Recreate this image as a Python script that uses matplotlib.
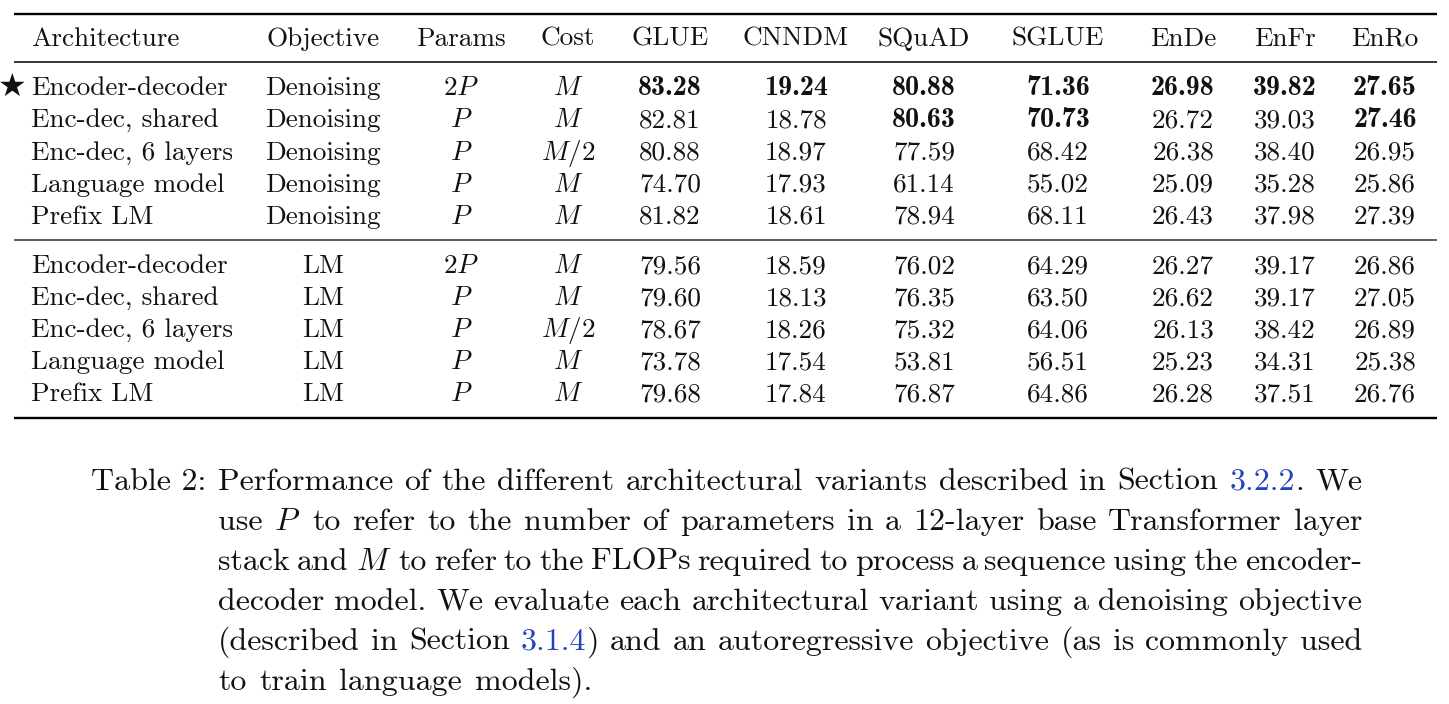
import matplotlib
matplotlib.use('Agg')
import matplotlib.pyplot as plt

plt.rcParams['font.family'] = ['cmr10', 'DejaVu Sans']
plt.rcParams['mathtext.fontset'] = 'cm'
plt.rcParams['axes.unicode_minus'] = False
plt.rcParams['axes.formatter.use_mathtext'] = True

# ---------------- data ----------------
headers = ["Architecture", "Objective", "Params", "Cost", "GLUE", "CNNDM",
           "SQuAD", "SGLUE", "EnDe", "EnFr", "EnRo"]
architectures = ["Encoder-decoder", "Enc-dec, shared", "Enc-dec, 6 layers",
                 "Language model", "Prefix LM"] * 2
objectives = ["Denoising"] * 5 + ["LM"] * 5
params = ["2$P$", "$P$", "$P$", "$P$", "$P$"] * 2
costs = ["$M$", "$M$", "$M/2$", "$M$", "$M$"] * 2
glue = [83.28, 82.81, 80.88, 74.70, 81.82, 79.56, 79.60, 78.67, 73.78, 79.68]
cnndm = [19.24, 18.78, 18.97, 17.93, 18.61, 18.59, 18.13, 18.26, 17.54, 17.84]
squad = [80.88, 80.63, 77.59, 61.14, 78.94, 76.02, 76.35, 75.32, 53.81, 76.87]
sglue = [71.36, 70.73, 68.42, 55.02, 68.11, 64.29, 63.50, 64.06, 56.51, 64.86]
ende = [26.98, 26.72, 26.38, 25.09, 26.43, 26.27, 26.62, 26.13, 25.23, 26.28]
enfr = [39.82, 39.03, 38.40, 35.28, 37.98, 39.17, 39.17, 38.42, 34.31, 37.51]
enro = [27.65, 27.46, 26.95, 25.86, 27.39, 26.86, 27.05, 26.89, 25.38, 26.76]
bold_rows = {"GLUE": [0], "CNNDM": [0], "SQuAD": [0, 1], "SGLUE": [0, 1],
             "EnDe": [0], "EnFr": [0], "EnRo": [0, 1]}
starred_row = 0

caption_label = "Table 2:"
caption_lines = [
    "Performance of the different architectural variants described in Section {3.2.2}. We",
    "use $P$ to refer to the number of parameters in a 12-layer base Transformer layer",
    "stack and $M$ to refer to the FLOPs required to process a sequence using the encoder-",
    "decoder model. We evaluate each architectural variant using a denoising objective",
    "(described in Section {3.1.4}) and an autoregressive objective (as is commonly used",
    "to train language models).",
]

# ---------------- layout ----------------
W, H = 1449, 704
fig = plt.figure(figsize=(W / 100, H / 100), dpi=100)
ax = fig.add_axes([0, 0, 1, 1])
ax.set_xlim(0, W)
ax.set_ylim(H, 0)
ax.axis('off')

FS = 19.6
FS_BOLD = 20.2
FS_CAP = 23
TXT = '#111111'
LINK = '#2342c0'

num_cols = {"GLUE": glue, "CNNDM": cnndm, "SQuAD": squad, "SGLUE": sglue,
            "EnDe": ende, "EnFr": enfr, "EnRo": enro}
col_x = {"Architecture": 31, "Objective": 323, "Params": 461, "Cost": 568,
         "GLUE": 670, "CNNDM": 796, "SQuAD": 924, "SGLUE": 1058,
         "EnDe": 1183, "EnFr": 1285, "EnRo": 1385}

header_y = 46
row_y = [95, 127, 160, 192, 224, 273, 305, 337, 369, 401]

# rules
ax.plot([14, 1437], [14, 14], color='black', lw=1.7, solid_capstyle='butt')
ax.plot([14, 1437], [62, 62], color='black', lw=1.1, solid_capstyle='butt')
ax.plot([14, 1437], [240, 240], color='#333333', lw=1.1, solid_capstyle='butt')
ax.plot([14, 1437], [418, 418], color='black', lw=1.7, solid_capstyle='butt')

for h in headers:
    ax.text(col_x[h], header_y, h, fontsize=FS, color=TXT, va='baseline',
            ha='left' if h == "Architecture" else 'center')

for i, y in enumerate(row_y):
    ax.text(col_x["Architecture"], y, architectures[i], fontsize=FS, color=TXT,
            va='baseline', ha='left')
    ax.text(col_x["Objective"], y, objectives[i], fontsize=FS, color=TXT,
            va='baseline', ha='center')
    ax.text(col_x["Params"], y, params[i], fontsize=FS, color=TXT,
            va='baseline', ha='center')
    ax.text(col_x["Cost"], y, costs[i], fontsize=FS, color=TXT,
            va='baseline', ha='center')
    for name, vals in num_cols.items():
        b = i in bold_rows[name]
        ax.text(col_x[name], y, f"{vals[i]:.2f}", fontsize=FS_BOLD if b else FS,
                color=TXT, va='baseline', ha='center',
                family='cmb10' if b else 'cmr10')

ax.text(12.5, row_y[starred_row] + 1, "★", family='DejaVu Sans', fontsize=23,
        color=TXT, va='baseline', ha='center')

# ---------------- caption ----------------
renderer = fig.canvas.get_renderer()


def parse_word(w):
    pieces = []
    buf = ''
    link = False
    for ch in w:
        if ch == '{':
            if buf:
                pieces.append((buf, TXT))
            buf = ''
            link = True
        elif ch == '}':
            pieces.append((buf, LINK))
            buf = ''
            link = False
        else:
            buf += ch
    if buf:
        pieces.append((buf, LINK if link else TXT))
    return pieces


def ink_width(s):
    t = ax.text(0, 0, s, fontsize=FS_CAP)
    w = t.get_window_extent(renderer).width
    t.remove()
    return w


space_w = 0.333 * FS_CAP * 100 / 72 + 2

cap_x0, cap_x1 = 218, 1362
cap_y = [490, 530, 570, 610, 650, 690]

ax.text(91, cap_y[0], caption_label, fontsize=FS_CAP, color=TXT,
        va='baseline', ha='left')

for li, (line, y) in enumerate(zip(caption_lines, cap_y)):
    words = [parse_word(w) for w in line.split(' ')]
    widths = [ink_width(''.join(s for s, _ in p)) for p in words]
    justify = li < len(caption_lines) - 1
    if justify and len(words) > 1:
        gap = (cap_x1 - cap_x0 - sum(widths)) / (len(words) - 1)
    else:
        gap = space_w
    x = cap_x0
    for pieces, wtot in zip(words, widths):
        if len(pieces) == 1:
            s, c = pieces[0]
            ax.text(x, y, s, fontsize=FS_CAP, color=c, va='baseline', ha='left')
        else:
            s0, c0 = pieces[0]
            ax.text(x, y, s0, fontsize=FS_CAP, color=c0, va='baseline', ha='left')
            s1, c1 = pieces[-1]
            ax.text(x + wtot, y, s1, fontsize=FS_CAP, color=c1, va='baseline',
                    ha='right')
        x += wtot + gap

fig.savefig('out.png', dpi=100)
